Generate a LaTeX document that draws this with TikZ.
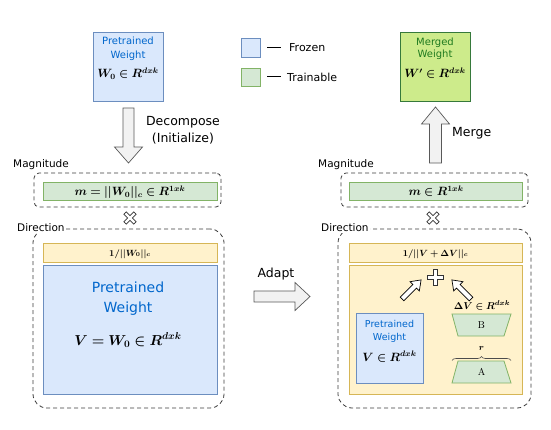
\documentclass[tikz,border=0pt]{standalone}
\usepackage{bm}
\usepackage{fontspec}
\newfontfamily\uisans{DejaVu Sans}
\usetikzlibrary{decorations.pathreplacing}
\definecolor{bluefill}{HTML}{DAE8FC}
\definecolor{blueline}{HTML}{6C8EBF}
\definecolor{bluetext}{HTML}{0066CC}
\definecolor{greenfill}{HTML}{D5E8D4}
\definecolor{greenline}{HTML}{82B366}
\definecolor{yellowfill}{HTML}{FFF2CC}
\definecolor{yellowline}{HTML}{D6B656}
\definecolor{mergefill}{HTML}{CDEB8B}
\definecolor{mergeline}{HTML}{36793B}
\definecolor{mergetext}{HTML}{1F7A1F}
\definecolor{dashgray}{HTML}{3C3C3C}
\definecolor{arrowfill}{HTML}{F2F2F2}
\newcommand\myfs[1]{\fontsize{#1}{#1}\selectfont}
\newcommand\blockarr[8]{%
  \begin{scope}[shift={(#1,#2)}, rotate=#3]
    \path[#8] (0,-#5) -- ({#4-#7},-#5) -- ({#4-#7},-#6) -- (#4,0) -- ({#4-#7},#6) -- ({#4-#7},#5) -- (0,#5) -- cycle;
  \end{scope}}
\begin{document}
\begin{tikzpicture}[x=1pt,y=-1pt,
  frozen/.style={draw=blueline, fill=bluefill, line width=0.8pt, inner sep=0},
  trainable/.style={draw=greenline, fill=greenfill, line width=0.8pt, inner sep=0},
  normbar/.style={draw=yellowline, fill=yellowfill, line width=0.8pt, inner sep=0},
  mergedbox/.style={draw=mergeline, fill=mergefill, line width=0.8pt, inner sep=0},
  groupbox/.style={draw=dashgray, dash pattern=on 4pt off 3pt, line width=0.8pt, inner sep=0},
  lbl/.style={inner sep=0, anchor=base},
  sidelbl/.style={inner sep=1pt, anchor=west, fill=white, font=\uisans\myfs{10.5}},
  bigarrow/.style={draw=black!65, line width=0.7pt, fill=arrowfill},
  smallarrow/.style={draw=black, line width=0.7pt, fill=white},
  symb/.style={draw=black!80, line width=0.6pt, fill=white}
]
\useasboundingbox (0,0) rectangle (551,430);

% ---------- legend ----------
\node[frozen, minimum width=19pt, minimum height=19pt] (legf) at (250.5,47.5) {};
\node[trainable, minimum width=19pt, minimum height=18pt] (legt) at (250.5,77) {};
\coordinate (lf1) at (267,48); \coordinate (lf2) at (281,48);
\coordinate (lt1) at (267,77); \coordinate (lt2) at (281,77);
\draw[line width=1pt] (lf1) -- (lf2);
\draw[line width=1pt] (lt1) -- (lt2);
\node[inner sep=0, anchor=west, font=\uisans\myfs{11}] (legftxt) at (289,48) {Frozen};
\node[inner sep=0, anchor=west, font=\uisans\myfs{11}] (legttxt) at (287,77) {Trainable};

% ---------- top left: pretrained weight ----------
\node[frozen, minimum width=70pt, minimum height=69pt] (pw) at (128,66.5) {};
\node[lbl, font=\uisans\myfs{10}, text=bluetext] (pw1) at (128,44.6) {Pretrained};
\node[lbl, font=\uisans\myfs{10}, text=bluetext] (pw2) at (128,58.6) {Weight};
\node[lbl, font=\myfs{11.5}] (pw3) at (128,78) {$\bm{W_0 \in R^{dxk}}$};

% decompose arrow
\blockarr{128.5}{108}{-90}{55}{5.5}{14}{16}{bigarrow}
\node[lbl, font=\uisans\myfs{12.5}] (dec1) at (183,125.5) {Decompose};
\node[lbl, font=\uisans\myfs{12.5}] (dec2) at (183,142.5) {(Initialize)};

% ---------- top right: merged weight ----------
\node[mergedbox, minimum width=70pt, minimum height=69pt] (mw) at (435,66.5) {};
\node[lbl, font=\uisans\myfs{10}, text=mergetext] (mw1) at (435,45.6) {Merged};
\node[lbl, font=\uisans\myfs{10}, text=mergetext] (mw2) at (435,58) {Weight};
\node[lbl, font=\myfs{11.5}] (mw3) at (435,78) {$\bm{W' \in R^{dxk}}$};

% merge arrow
\blockarr{435.5}{163}{90}{56}{6}{14}{17}{bigarrow}
\node[inner sep=0, anchor=west, font=\uisans\myfs{12.5}] (mergelbl) at (452,133) {Merge};

% ---------- left magnitude ----------
\node[groupbox, rounded corners=5pt, minimum width=187pt, minimum height=34pt] (lmag) at (127.5,190) {};
\node[sidelbl] (lmaglbl) at (12,165) {Magnitude};
\node[trainable, minimum width=174pt, minimum height=18pt] (lm) at (130,191) {};
\node[lbl, font=\myfs{12}] (lmtxt) at (130,195.5) {$\bm{m = ||W_0||_c \in R^{1xk}}$};

% times
\path[symb, shift={(130,218)}, rotate=45] (-1.7,-7) -- (1.7,-7) -- (1.7,-1.7) -- (7,-1.7) -- (7,1.7) -- (1.7,1.7) -- (1.7,7) -- (-1.7,7) -- (-1.7,1.7) -- (-7,1.7) -- (-7,-1.7) -- (-1.7,-1.7) -- cycle;

% ---------- left direction ----------
\node[groupbox, rounded corners=14pt, minimum width=191pt, minimum height=179pt] (ldir) at (128.5,318.5) {};
\node[sidelbl] (ldirlbl) at (16,228) {Direction};
\node[normbar, minimum width=174pt, minimum height=19pt] (lnorm) at (130,252.5) {};
\node[lbl, font=\myfs{9}] (lnormtxt) at (130,256) {$\bm{1/||W_0||_c}$};
\node[frozen, minimum width=174pt, minimum height=129pt] (lv) at (130,329.5) {};
\node[lbl, font=\uisans\myfs{14}, text=bluetext] (lv1) at (128,292) {Pretrained};
\node[lbl, font=\uisans\myfs{14}, text=bluetext] (lv2) at (128,312) {Weight};
\node[lbl, font=\myfs{14}] (lv3) at (128,345) {$\bm{V = W_0 \in R^{dxk}}$};

% adapt arrow
\node[lbl, font=\uisans\myfs{12.5}] (adapt) at (276,277.5) {Adapt};
\blockarr{254}{296.5}{0}{56}{5.5}{14}{15}{bigarrow}

% ---------- right magnitude ----------
\node[groupbox, rounded corners=5pt, minimum width=187pt, minimum height=34pt] (rmag) at (434.5,190) {};
\node[sidelbl] (rmaglbl) at (317,165) {Magnitude};
\node[trainable, minimum width=173pt, minimum height=18pt] (rm) at (435.5,191) {};
\node[lbl, font=\myfs{12}] (rmtxt) at (436,195.5) {$\bm{m \in R^{1xk}}$};

\path[symb, shift={(433,218)}, rotate=45] (-1.7,-7) -- (1.7,-7) -- (1.7,-1.7) -- (7,-1.7) -- (7,1.7) -- (1.7,1.7) -- (1.7,7) -- (-1.7,7) -- (-1.7,1.7) -- (-7,1.7) -- (-7,-1.7) -- (-1.7,-1.7) -- cycle;

% ---------- right direction ----------
\node[groupbox, rounded corners=14pt, minimum width=193pt, minimum height=179pt] (rdir) at (434.5,318.5) {};
\node[sidelbl] (rdirlbl) at (320,228) {Direction};
\node[normbar, minimum width=173pt, minimum height=19pt] (rnorm) at (435.5,252.5) {};
\node[lbl, font=\myfs{9}] (rnormtxt) at (435.5,256) {$\bm{1/||V + \Delta V||_c}$};
\node[normbar, minimum width=173pt, minimum height=129pt] (rv) at (435.5,329.5) {};

% plus
\path[symb, shift={(435,277)}] (-2.2,-8) -- (2.2,-8) -- (2.2,-2.2) -- (8,-2.2) -- (8,2.2) -- (2.2,2.2) -- (2.2,8) -- (-2.2,8) -- (-2.2,2.2) -- (-8,2.2) -- (-8,-2.2) -- (-2.2,-2.2) -- cycle;

% small arrows
\blockarr{402}{299}{45}{27}{2.5}{6.5}{9}{smallarrow}
\blockarr{471}{299}{135}{27}{2.5}{6.5}{9}{smallarrow}

% small pretrained weight
\node[frozen, minimum width=67pt, minimum height=70pt] (sv) at (389.5,348) {};
\node[lbl, font=\uisans\myfs{9.5}, text=bluetext] (sv1) at (389.5,327.5) {Pretrained};
\node[lbl, font=\uisans\myfs{9.5}, text=bluetext] (sv2) at (389.5,340.5) {Weight};
\node[lbl, font=\myfs{12}] (sv3) at (389.5,361) {$\bm{V \in R^{dxk}}$};

% delta V
\node[lbl, font=\myfs{10}] (dv) at (482,309) {$\bm{\Delta V \in R^{dxk}}$};

% B trapezoid
\coordinate (b1) at (452,314); \coordinate (b2) at (511,314);
\coordinate (b3) at (504,336); \coordinate (b4) at (458,336);
\draw[trainable] (b1) -- (b2) -- (b3) -- (b4) -- cycle;
\node[font=\myfs{10}, inner sep=0] (blbl) at (481.5,325) {B};

% A trapezoid
\coordinate (a1) at (458,361); \coordinate (a2) at (504,361);
\coordinate (a3) at (511,383); \coordinate (a4) at (452,383);
\draw[trainable] (a1) -- (a2) -- (a3) -- (a4) -- cycle;
\node[font=\myfs{10}, inner sep=0] (albl) at (481.5,372) {A};

% brace and r
\coordinate (br1) at (452,360.5); \coordinate (br2) at (511,360.5);
\draw[decorate, decoration={brace, amplitude=4pt}, line width=0.6pt, draw=black!70] (br1) -- (br2);
\node[lbl, font=\myfs{9}] (rlbl) at (481.5,350) {$\bm{r}$};
\end{tikzpicture}
\end{document}
